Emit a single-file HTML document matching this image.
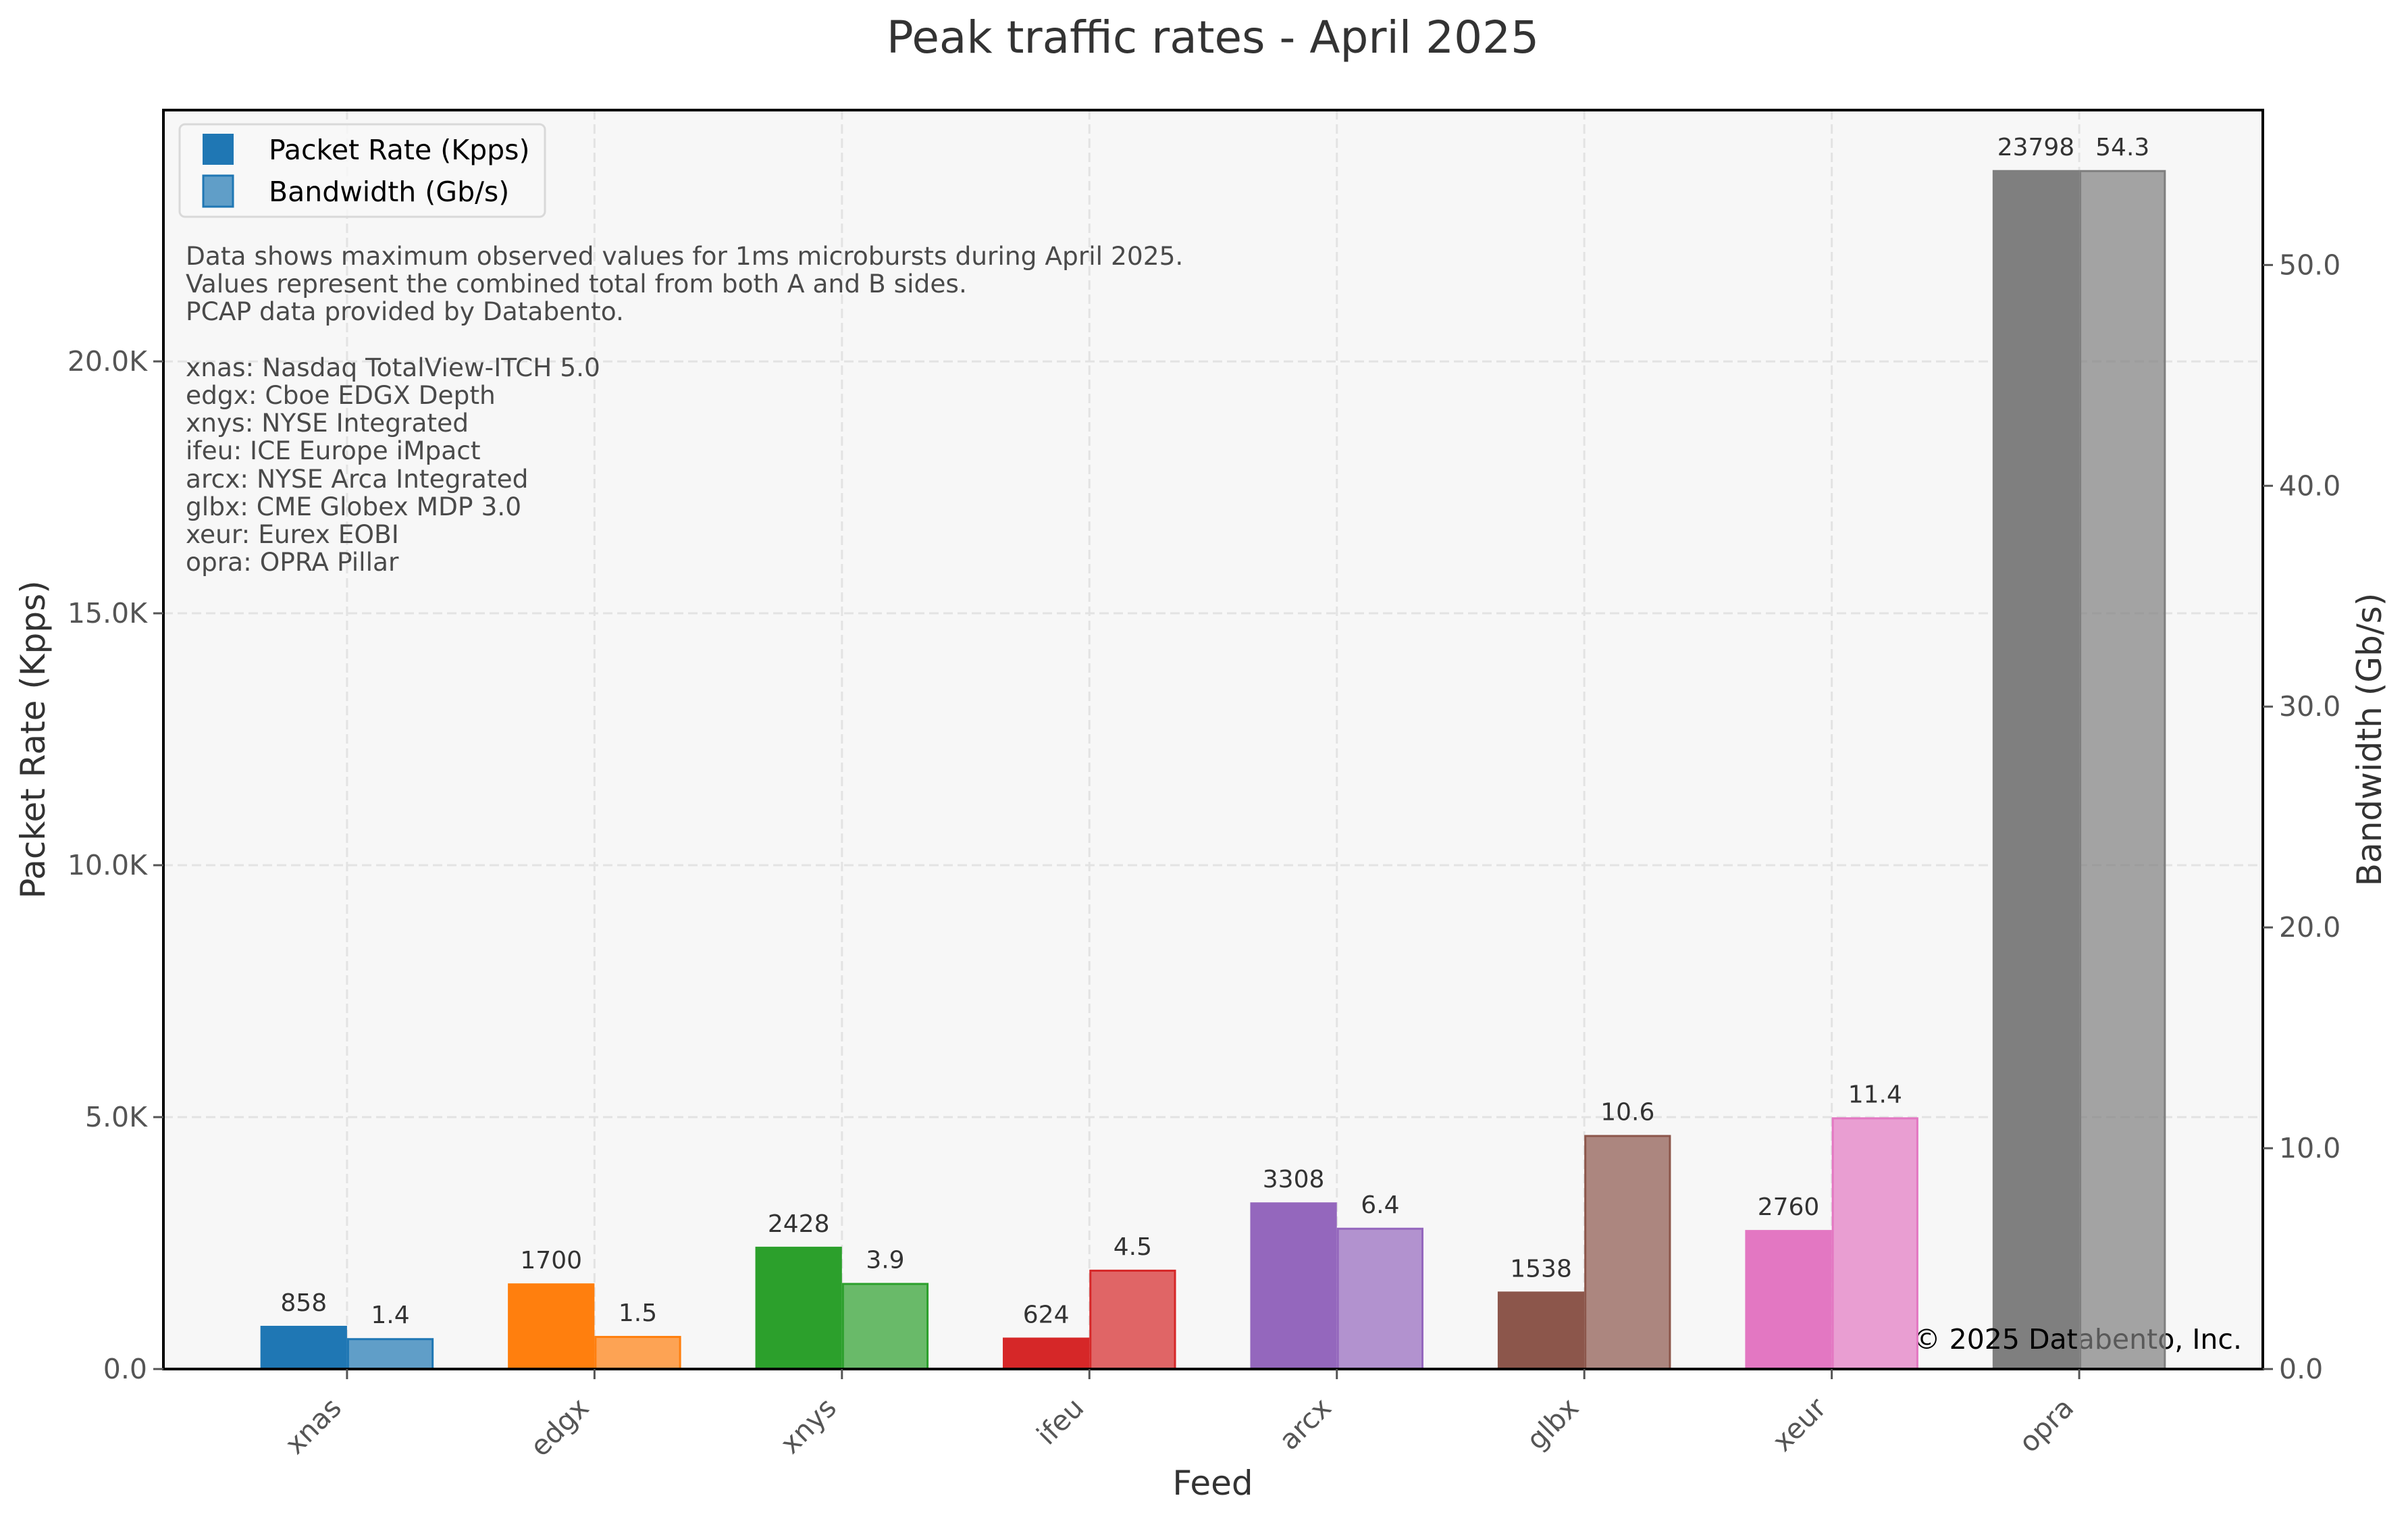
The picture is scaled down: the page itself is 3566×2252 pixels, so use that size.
<!DOCTYPE html>
<html><head><meta charset="utf-8"><style>
html,body{margin:0;padding:0;background:#fff;}
svg{display:block;font-family:"DejaVu Sans","Liberation Sans",sans-serif;}
</style></head><body>
<svg id="chart" width="3566" height="2252" viewBox="0 0 3566 2252" xmlns="http://www.w3.org/2000/svg">
<rect x="0" y="0" width="3566" height="2252" fill="#ffffff"/>
<text x="1796" y="78" font-size="66" fill="#333" text-anchor="middle">Peak traffic rates - April 2025</text>
<rect x="242" y="163" width="3109" height="1864" fill="#f7f7f7"/>
<g id="grid"></g>
<g id="bars1"></g>
<text x="3320" y="1997" font-size="41" fill="#000" text-anchor="end">© 2025 Databento, Inc.</text>
<g id="bars2"></g>
<g id="labels"></g>
<rect x="242" y="163" width="3109" height="1864" fill="none" stroke="#000" stroke-width="4"/>
<g id="axes"></g>
<g>
<rect x="266" y="184" width="541" height="137" rx="8" fill="#f7f7f7" fill-opacity="0.8" stroke="#d9d9d9" stroke-width="3"/>
<rect x="300" y="198" width="46" height="46" fill="#1f77b4"/>
<text x="398" y="236" font-size="41" fill="#000">Packet Rate (Kpps)</text>
<rect x="301" y="260" width="44" height="46" fill="#1f77b4" fill-opacity="0.7" stroke="#1f77b4" stroke-width="3"/>
<text x="398" y="298" font-size="41" fill="#000">Bandwidth (Gb/s)</text>
</g>
<g font-size="37.5" fill="#4a4a4a">
<text x="275" y="392">Data shows maximum observed values for 1ms microbursts during April 2025.</text>
<text x="275" y="433">Values represent the combined total from both A and B sides.</text>
<text x="275" y="474">PCAP data provided by Databento.</text>
<text x="275" y="557">xnas: Nasdaq TotalView-ITCH 5.0</text>
<text x="275" y="598">edgx: Cboe EDGX Depth</text>
<text x="275" y="639">xnys: NYSE Integrated</text>
<text x="275" y="680">ifeu: ICE Europe iMpact</text>
<text x="275" y="722">arcx: NYSE Arca Integrated</text>
<text x="275" y="763">glbx: CME Globex MDP 3.0</text>
<text x="275" y="804">xeur: Eurex EOBI</text>
<text x="275" y="845">opra: OPRA Pillar</text>
</g>
<text x="0" y="0" transform="translate(66,1095) rotate(-90)" font-size="50" fill="#333" text-anchor="middle">Packet Rate (Kpps)</text>
<text x="0" y="0" transform="translate(3526,1095) rotate(-90)" font-size="50" fill="#333" text-anchor="middle">Bandwidth (Gb/s)</text>
<text x="1796" y="2213" font-size="50" fill="#333" text-anchor="middle">Feed</text>
</svg>
<script>
const categories = ["xnas","edgx","xnys","ifeu","arcx","glbx","xeur","opra"];
const packetRate = [858,1700,2428,624,3308,1538,2760,23798];
const bandwidth = [1.4,1.5,3.9,4.5,6.4,10.6,11.4,54.3];
const packetLabels = ["858","1700","2428","624","3308","1538","2760","23798"];
const bandwidthLabels = ["1.4","1.5","3.9","4.5","6.4","10.6","11.4","54.3"];
const leftTicks = [0,5000,10000,15000,20000];
const leftTickLabels = ["0.0","5.0K","10.0K","15.0K","20.0K"];
const rightTicks = [0,10,20,30,40,50];
const rightTickLabels = ["0.0","10.0","20.0","30.0","40.0","50.0"];
const colors = ["#1f77b4","#ff7f0e","#2ca02c","#d62728","#9467bd","#8c564b","#e377c2","#7f7f7f"];

const NS="http://www.w3.org/2000/svg";
const L=242,R=3351,T=163,B=2027;
const xmin=-0.742,xmax=7.742;
const y1max=Math.max(...packetRate)*1.05, y2max=Math.max(...bandwidth)*1.05;
const xs=i=>L+(i-xmin)/(xmax-xmin)*(R-L);
const y1=v=>B-v/y1max*(B-T);
const y2=v=>B-v/y2max*(B-T);
const bw=0.35*(R-L)/(xmax-xmin);
function mk(tag,attrs,parent){const e=document.createElementNS(NS,tag);for(const k in attrs)e.setAttribute(k,attrs[k]);parent.appendChild(e);return e;}
const grid=document.getElementById('grid'),b1=document.getElementById('bars1'),b2=document.getElementById('bars2'),lab=document.getElementById('labels'),ax=document.getElementById('axes');
leftTicks.forEach((t,i)=>{
  const y=y1(t);
  const g=mk('line',{x1:L,x2:R,y1:y,y2:y,stroke:'#e3e3e3','stroke-width':3,'stroke-dasharray':'14 7'},grid);
  
  
  const tk=mk('line',{x1:L-15,x2:L,y1:y,y2:y,stroke:'#555','stroke-width':3},ax);
  
  
  const tx=mk('text',{x:L-24,y:y+14,'font-size':41,fill:'#555','text-anchor':'end'},ax);
  tx.textContent=leftTickLabels[i];
  
  
});
rightTicks.forEach((t,i)=>{
  const y=y2(t);
  const tk=mk('line',{x1:R,x2:R+15,y1:y,y2:y,stroke:'#555','stroke-width':3},ax);
  
  
  const tx=mk('text',{x:R+24,y:y+14,'font-size':41,fill:'#555'},ax);
  tx.textContent=rightTickLabels[i];
  
  
});
categories.forEach((c,i)=>{
  const cx=xs(i);
  const g=mk('line',{x1:cx,x2:cx,y1:T,y2:B,stroke:'#e3e3e3','stroke-width':3,'stroke-dasharray':'14 7'},grid);
  
  
  const p=mk('rect',{x:cx-bw,y:y1(packetRate[i]),width:bw,height:B-y1(packetRate[i]),fill:colors[i]},b1);
  
  
  const q=mk('rect',{x:cx+1.5,y:y2(bandwidth[i])+1.5,width:bw-3,height:B-y2(bandwidth[i])-1.5,fill:colors[i],'fill-opacity':0.7,stroke:colors[i],'stroke-width':3},b2);
  
  
  const t1=mk('text',{x:cx-bw/2,y:y1(packetRate[i])-22,'font-size':36,fill:'#333','text-anchor':'middle'},lab);
  t1.textContent=packetLabels[i];
  
  
  const t2=mk('text',{x:cx+bw/2,y:y2(bandwidth[i])-22,'font-size':36,fill:'#333','text-anchor':'middle'},lab);
  t2.textContent=bandwidthLabels[i];
  
  
  const tk=mk('line',{x1:cx,x2:cx,y1:B,y2:B+15,stroke:'#555','stroke-width':3},ax);
  
  
  const tx=mk('text',{x:0,y:0,'font-size':41,fill:'#555','text-anchor':'end',transform:`translate(${cx-6},${B+60}) rotate(-45)`},ax);
  tx.textContent=c;
  
  
});
</script>
</body></html>
